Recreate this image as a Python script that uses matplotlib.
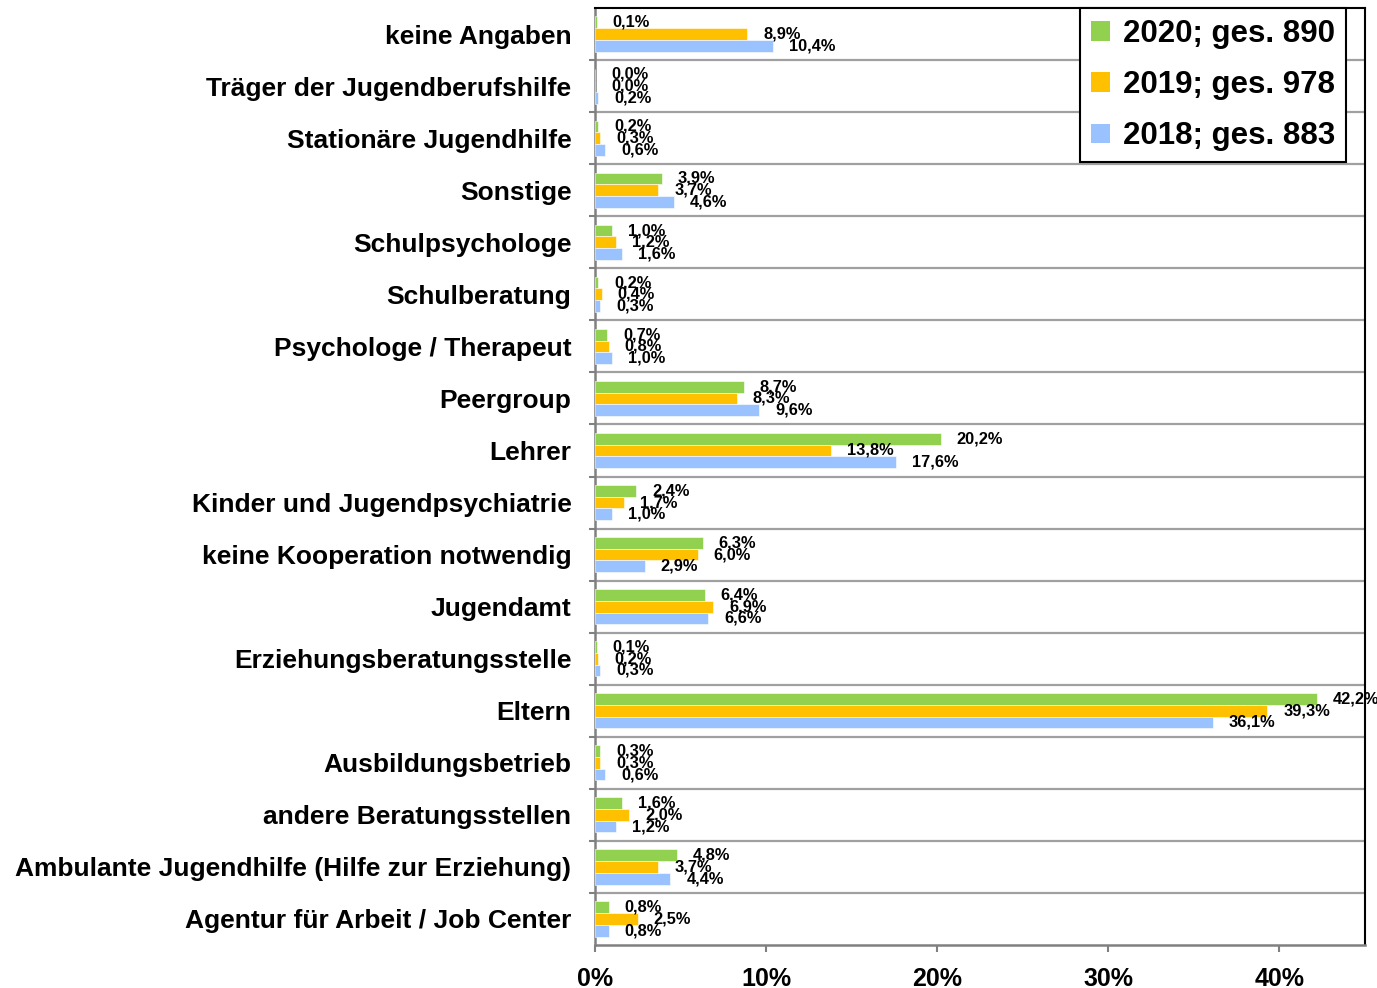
import matplotlib
matplotlib.use("Agg")
import matplotlib.pyplot as plt
from matplotlib.patches import Patch
import numpy as np

plt.rcParams['font.family'] = ['Liberation Sans', 'DejaVu Sans']

categories = [
    "keine Angaben",
    "Träger der Jugendberufshilfe",
    "Stationäre Jugendhilfe",
    "Sonstige",
    "Schulpsychologe",
    "Schulberatung",
    "Psychologe / Therapeut",
    "Peergroup",
    "Lehrer",
    "Kinder und Jugendpsychiatrie",
    "keine Kooperation notwendig",
    "Jugendamt",
    "Erziehungsberatungsstelle",
    "Eltern",
    "Ausbildungsbetrieb",
    "andere Beratungsstellen",
    "Ambulante Jugendhilfe (Hilfe zur Erziehung)",
    "Agentur für Arbeit / Job Center",
]
vals_2020 = [0.1, 0.0, 0.2, 3.9, 1.0, 0.2, 0.7, 8.7, 20.2, 2.4, 6.3, 6.4, 0.1, 42.2, 0.3, 1.6, 4.8, 0.8]
vals_2019 = [8.9, 0.0, 0.3, 3.7, 1.2, 0.4, 0.8, 8.3, 13.8, 1.7, 6.0, 6.9, 0.2, 39.3, 0.3, 2.0, 3.7, 2.5]
vals_2018 = [10.4, 0.2, 0.6, 4.6, 1.6, 0.3, 1.0, 9.6, 17.6, 1.0, 2.9, 6.6, 0.3, 36.1, 0.6, 1.2, 4.4, 0.8]
series_labels = ["2020; ges. 890", "2019; ges. 978", "2018; ges. 883"]
colors = ["#92D050", "#FFC000", "#99C2FF"]
xticks = [0, 10, 20, 30, 40]

fig = plt.figure(figsize=(13.77, 9.88), dpi=100)
ax = fig.add_axes([0.4321, 0.0435, 0.9913 - 0.4321, 0.9919 - 0.0435])

y = np.arange(len(categories))
h = 0.225
offsets = [-h, 0, h]
for vals, off, c in zip([vals_2020, vals_2019, vals_2018], offsets, colors):
    bars = ax.barh(y + off, vals, height=h, color=c, edgecolor='white', linewidth=0.4, zorder=3)
    ax.bar_label(bars, labels=[f"{v:.1f}%".replace('.', ',') for v in vals],
                 padding=11.5, fontsize=11.8, fontweight='bold', color='black',
                 clip_on=False, zorder=5)

ax.set_xlim(0, 45)
ax.set_ylim(len(categories) - 0.5, -0.5)
ax.set_xticks(xticks)
ax.set_xticklabels([f"{t}%" for t in xticks], fontsize=18, fontweight='bold')
ax.set_yticks(y)
ax.set_yticklabels(categories, fontsize=19, fontweight='bold')
ax.set_yticks(np.arange(len(categories) - 1) + 0.5, minor=True)
ax.tick_params(axis='y', which='major', length=0, pad=17)
ax.tick_params(axis='y', which='minor', length=4, color='#808080', width=1.5)
ax.tick_params(axis='x', which='major', length=5, color='#808080', width=1.5, pad=11)
ax.grid(axis='y', which='minor', color='#A0A0A0', linewidth=1.6, zorder=1)

for s in ['left', 'bottom']:
    ax.spines[s].set_color('#808080')
    ax.spines[s].set_linewidth(1.8)
for s in ['top', 'right']:
    ax.spines[s].set_color('black')
    ax.spines[s].set_linewidth(1.5)

handles = [Patch(facecolor=c, edgecolor='none') for c in colors]
leg = ax.legend(handles, series_labels, loc='upper right', bbox_to_anchor=(0.975, 1.0),
                borderaxespad=0, prop={'weight': 'bold', 'size': 22.5},
                frameon=True, fancybox=False, edgecolor='black', framealpha=1,
                handlelength=0.6, handleheight=0.6, handletextpad=0.4,
                labelspacing=0.68, borderpad=0.35)
leg.get_frame().set_linewidth(1.5)
leg.set_zorder(10)

fig.savefig("out.png", dpi=100)
